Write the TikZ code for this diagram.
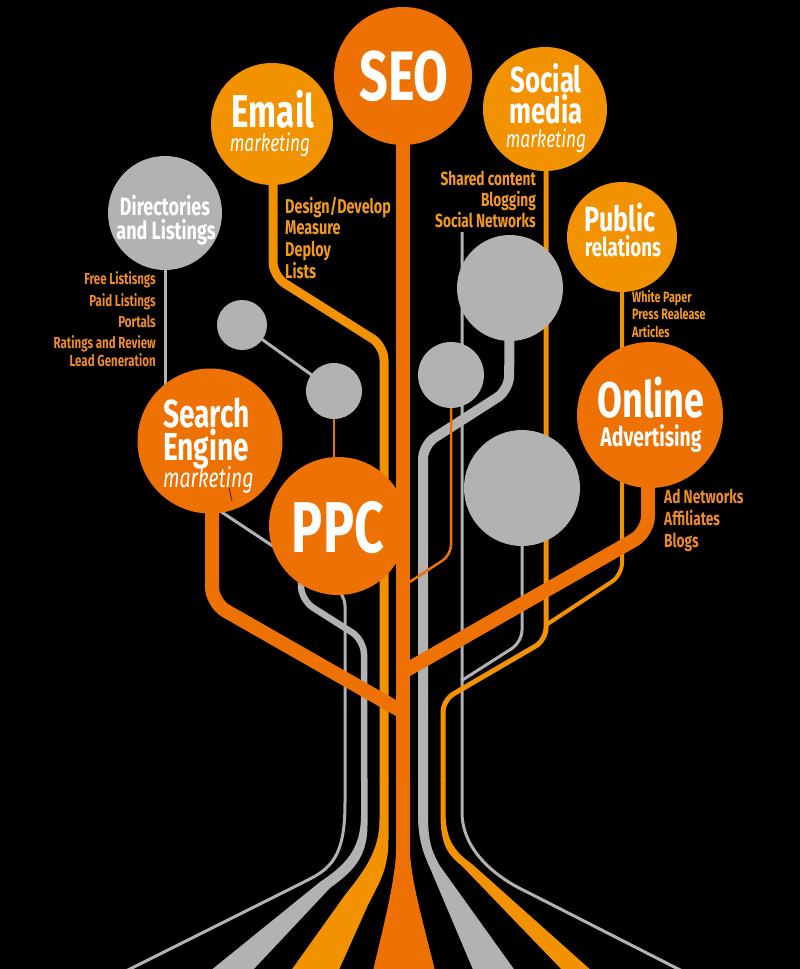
\documentclass[tikz,border=0pt]{standalone}
\usepackage{fontspec}
\setmainfont{Fira Sans}[FakeStretch=0.72]
\definecolor{dor}{HTML}{EE7203}
\definecolor{lor}{HTML}{F39200}
\definecolor{gr}{HTML}{B2B2B2}
\definecolor{txl}{HTML}{F39A1E}
\definecolor{txd}{HTML}{EC8A2C}
\newcommand\fsz[1]{\fontsize{#1}{#1}\selectfont}
\begin{document}
\begin{tikzpicture}[x=1pt,y=-1pt,
  bub/.style={circle,inner sep=0pt,minimum size=#1},
  ttl/.style={anchor=base,text=white,inner sep=0pt,font=\bfseries\fsz{#1}},
  sub/.style={anchor=base,text=white,inner sep=0pt,font=\itshape\fsz{#1}},
  lstw/.style={anchor=base west,text=txl,inner sep=0pt,font=\bfseries\fsz{#1}},
  lste/.style={anchor=base east,text=txl,inner sep=0pt,font=\bfseries\fsz{#1}},
  trunkl/.style={draw=dor,line width=14pt,rounded corners=16pt},
  emaill/.style={draw=lor,line width=9pt,rounded corners=14pt},
  sociall/.style={draw=lor,line width=5pt,rounded corners=12pt},
  prl/.style={draw=lor,line width=4pt,rounded corners=12pt},
  gwide/.style={draw=gr,line width=10pt,rounded corners=14pt},
  gmed/.style={draw=gr,line width=6.5pt,rounded corners=14pt},
  gthin/.style={draw=gr,line width=3pt,rounded corners=12pt},
  othin/.style={draw=dor,line width=2.5pt,rounded corners=10pt}]
\fill[black] (0,0) rectangle (800,969);
\useasboundingbox (0,0) rectangle (800,969);
\clip (0,0) rectangle (800,969);

% circle centres
\path (403,76) coordinate (cseo) (272,124) coordinate (cemail) (545,109) coordinate (csoc)
      (165,213) coordinate (cdir) (622,237) coordinate (cpr) (242,325) coordinate (cs1)
      (334,391) coordinate (cs2) (210,441) coordinate (csearch) (338,526) coordinate (cppc)
      (650,415) coordinate (conline) (510,288) coordinate (cg1) (451,375) coordinate (cg2)
      (522,488) coordinate (cg3);

% thin connectors
\draw[gthin] (cdir) -- (165,400);
\draw[gthin] (cs1) -- (cs2);
\draw[othin] (cs2) -- (334,480);
\draw[gthin] (214,507) -- (345,594) -- (345,790) .. controls (345,850) and (335,866) .. (300,884) -- (120,974);
\draw[gthin] (462,232) -- (462,800) .. controls (462,850) and (495,876) .. (533,895) -- (690,975);
\draw[gthin] (cg3) -- (522,642) -- (461,681);
\draw[prl] (cpr) -- (622,575) -- (546,625);
\draw[gmed] (301,560) -- (301,600) -- (364,640) -- (364,780);
\draw[gwide] (cg1) -- (509,390) -- (423,445) -- (423,780);
\draw[emaill] (273,124) -- (273,276) -- (384,346) -- (384,780);
\draw[sociall] (546,109) -- (546,640) -- (443,700) -- (443,780);
\draw[othin] (cg2) -- (451,555) -- (405,585);

% flaring roots
\fill[gr] (361,779) -- (361,815) .. controls (361,850) and (345,865) .. (320,882) -- (210,971)
  -- (252,971) -- (330,888) .. controls (352,872) and (367.5,858) .. (367.5,825) -- (367.5,779) -- cycle;
\fill[lor] (379.5,779) -- (379.5,820) .. controls (379.5,850) and (365,870) .. (345,895) -- (290,972)
  -- (338,972) -- (368,905) .. controls (378,885) and (388.5,870) .. (388.5,840) -- (388.5,779) -- cycle;
\fill[dor] (396,779) -- (396,850) .. controls (396,880) and (380,940) .. (372,975)
  -- (436,975) .. controls (428,940) and (410,880) .. (410,850) -- (410,779) -- cycle;
\fill[gr] (418,779) -- (418,815) .. controls (418,840) and (424,855) .. (430,868) -- (474,972)
  -- (516,972) -- (440,866) .. controls (432,852) and (428,842) .. (428,815) -- (428,779) -- cycle;
\fill[lor] (440.5,779) -- (440.5,815) .. controls (440.5,845) and (448,855) .. (462,866) -- (564,972)
  -- (593,972) -- (472,864) .. controls (455,852) and (445.5,840) .. (445.5,812) -- (445.5,779) -- cycle;

% thick branches and trunk
\draw[trunkl] (212,441) -- (212,603) -- (403,712);
\draw[trunkl] (648,415) -- (648,532) -- (403,672);
\draw[trunkl] (cseo) -- (403,780);

% circles
\node[bub=138pt,fill=dor] (seo) at (cseo) {};
\node[bub=122pt,fill=lor] (email) at (cemail) {};
\node[bub=124pt,fill=lor] (social) at (csoc) {};
\node[bub=114pt,fill=gr] (dir) at (cdir) {};
\node[bub=110pt,fill=lor] (pr) at (cpr) {};
\node[bub=50pt,fill=gr] (small1) at (cs1) {};
\node[bub=56pt,fill=gr] (small2) at (cs2) {};
\node[bub=145pt,fill=dor] (search) at (csearch) {};
\node[bub=138pt,fill=dor] (ppc) at (cppc) {};
\node[bub=146pt,fill=dor] (online) at (conline) {};
\node[bub=106pt,fill=gr] (gray1) at (cg1) {};
\node[bub=66pt,fill=gr] (gray2) at (cg2) {};
\node[bub=116pt,fill=gr] (gray3) at (cg3) {};
\draw[line width=1pt,black!60!dor] (229,488) -- (232,501);

% titles
\node[ttl=70] (tseo) at (404,100) {SEO};
\node[ttl=46] (temail) at (273,127) {Email};
\node[sub=24] (temail2) at (270,151) {marketing};
\node[ttl=36] (tsoc1) at (546,92) {Social};
\node[ttl=36] (tsoc2) at (546,123) {media};
\node[sub=24] (tsoc3) at (546,147) {marketing};
\node[ttl=25] (tdir1) at (165,215) {Directories};
\node[ttl=25] (tdir2) at (166,239) {and Listings};
\node[ttl=35] (tpr1) at (620,231) {Public};
\node[ttl=26] (tpr2) at (623,256) {relations};
\node[ttl=50] (ton1) at (651,417) {Online};
\node[ttl=27] (ton2) at (651,446) {Advertising};
\node[ttl=39,anchor=base west] (tse1) at (163,427) {Search};
\node[ttl=39,anchor=base west] (tse2) at (163,460) {Engine};
\node[sub=27,anchor=base west] (tse3) at (163,487) {marketing};
\node[ttl=72] (tppc) at (338,552) {PPC};

% lists
\node[lstw=20] (e1) at (285,213) {Design/Develop};
\node[lstw=20] (e2) at (285,234) {Measure};
\node[lstw=20] (e3) at (285,256) {Deploy};
\node[lstw=20] (e4) at (285,278) {Lists};
\node[lste=16,text=txd] (d1) at (156,284) {Free Listisngs};
\node[lste=16,text=txd] (d2) at (156,306) {Paid Listings};
\node[lste=16,text=txd] (d3) at (156,327) {Portals};
\node[lste=16,text=txd] (d4) at (156,348) {Ratings and Review};
\node[lste=16,text=txd] (d5) at (156,366) {Lead Generation};
\node[lste=19] (s1) at (536,185) {Shared content};
\node[lste=19] (s2) at (536,206) {Blogging};
\node[lste=19] (s3) at (536,227) {Social Networks};
\node[lstw=15] (p1) at (632,302) {White Paper};
\node[lstw=15] (p2) at (632,319) {Press Realease};
\node[lstw=15] (p3) at (632,337) {Articles};
\node[lstw=19,text=txd] (o1) at (664,503) {Ad Networks};
\node[lstw=19,text=txd] (o2) at (664,525) {Affiliates};
\node[lstw=19,text=txd] (o3) at (664,547) {Blogs};
\end{tikzpicture}
\end{document}
